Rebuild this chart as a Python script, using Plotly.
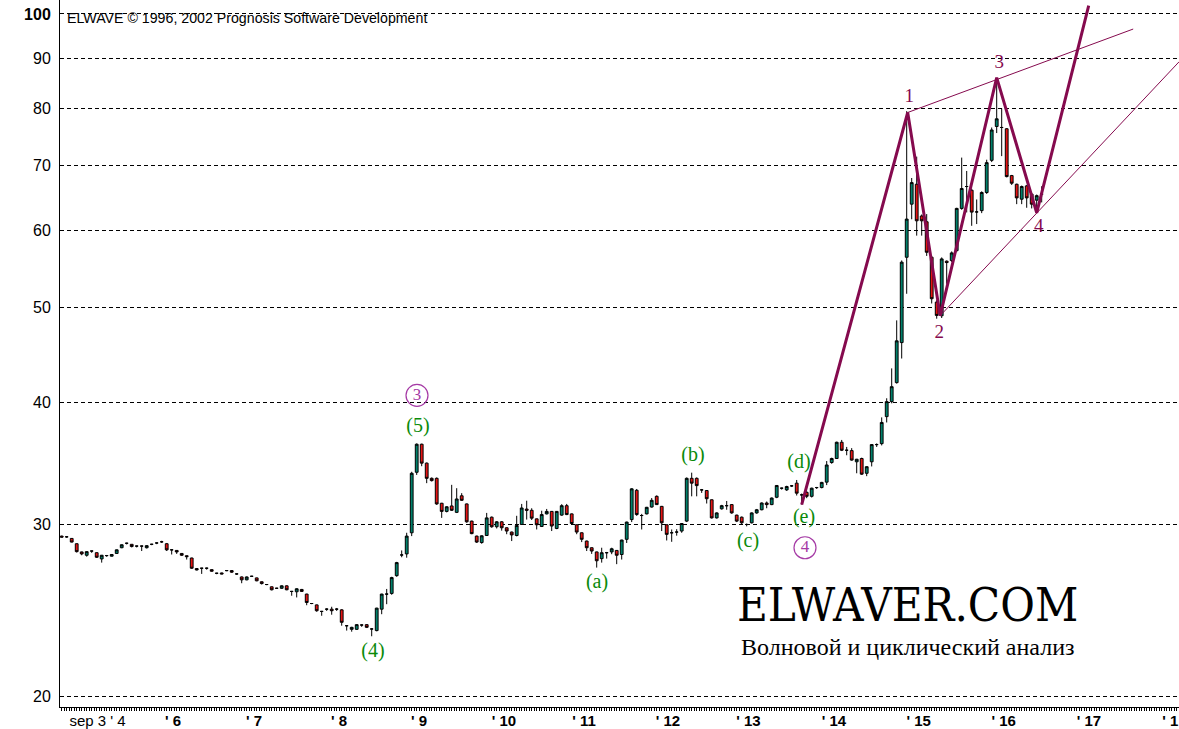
import plotly.graph_objects as go
import numpy as np

# ---------------- data ----------------
open_ = [29.17,29.12,29.01,28.65,28.10,27.88,28.16,28.05,27.64,27.86,27.82,28.00,28.38,28.68,28.61,28.49,28.49,28.38,28.61,28.70,
         28.78,28.65,28.24,28.20,28.00,27.85,27.70,27.02,27.04,27.04,26.95,26.72,26.74,26.89,26.89,26.68,26.49,26.31,26.53,26.43,
         26.19,26.02,25.88,25.79,25.79,25.94,25.60,25.58,25.72,25.44,24.88,24.80,24.42,24.55,24.55,24.55,24.51,23.61,23.41,23.41,
         23.65,23.67,23.43,23.34,24.55,25.44,25.48,26.57,27.90,27.97,29.40,33.91,36.23,34.65,33.43,33.43,31.52,30.92,31.32,30.85,
         32.08,31.47,30.22,29.17,28.73,29.21,30.50,29.82,30.17,29.75,29.45,29.21,29.98,31.09,31.00,30.38,29.84,30.74,30.92,29.70,
         30.65,31.34,30.74,29.96,29.40,28.83,28.38,28.10,27.66,28.05,28.10,28.20,27.93,28.95,30.33,32.50,30.62,30.74,31.24,32.04,
         31.29,29.96,29.40,29.45,29.52,30.22,33.43,33.43,32.53,32.48,31.78,30.45,31.11,31.34,31.42,30.65,30.50,29.98,30.10,30.81,
         31.04,31.54,31.42,31.97,32.66,32.53,32.84,33.05,32.15,32.34,32.04,32.71,32.71,33.13,34.70,35.03,36.40,35.72,35.69,34.76,
         35.03,33.83,34.76,36.20,36.28,38.67,40.06,41.90,46.05,56.32,63.84,66.91,62.08,61.24,56.32,50.67,49.06,55.80,55.88,57.21,
         63.20,66.55,65.97,62.68,62.87,65.62,70.79,76.68,76.50,76.27,68.29,66.91,64.59,66.65,65.36,64.44,65.36]
high = [29.20,29.16,29.03,28.67,28.12,28.14,28.17,28.07,27.90,27.90,27.95,28.26,28.60,28.72,28.63,28.52,28.52,28.55,28.64,28.73,
        28.85,28.70,28.26,28.22,28.02,27.87,27.72,27.04,27.06,27.08,26.97,26.75,26.76,26.92,26.92,26.70,26.52,26.52,26.56,26.45,
        26.21,26.05,25.90,25.82,25.97,25.97,25.63,25.79,25.75,25.46,24.91,24.82,24.45,24.60,24.69,24.62,24.55,23.65,23.55,23.70,
        23.68,23.70,23.47,24.63,25.46,25.75,26.50,27.45,28.20,29.40,33.95,36.30,36.28,34.70,33.50,33.50,31.55,31.30,32.92,32.66,
        32.28,31.50,30.25,29.20,29.22,30.81,30.55,30.22,30.22,29.78,29.48,30.60,31.47,31.71,31.15,30.40,30.97,31.10,30.95,30.95,
        31.45,31.47,30.77,29.98,29.42,28.86,28.40,28.12,28.38,28.10,28.38,28.22,28.92,30.18,32.66,32.60,30.74,31.25,31.91,32.11,
        31.32,29.98,29.63,29.65,30.08,33.50,33.88,33.50,32.60,32.52,31.80,30.85,31.40,31.69,31.45,30.68,30.55,30.05,30.85,31.10,
        31.58,31.65,31.95,32.90,32.70,32.85,32.90,33.30,32.25,32.45,32.70,32.76,33.15,34.82,35.10,36.45,36.60,36.00,35.90,35.00,
        35.10,34.40,36.25,36.30,38.60,40.38,43.33,48.53,55.90,79.50,67.90,71.41,62.30,62.36,56.50,50.90,56.30,55.90,57.10,63.30,
        71.25,69.04,66.20,64.55,65.80,70.90,76.50,86.00,80.00,76.40,68.40,67.00,66.70,66.80,65.50,65.30,66.60]
low = [29.08,29.05,28.74,28.06,27.88,27.79,28.04,27.70,27.40,27.78,27.80,27.98,28.35,28.60,28.40,28.40,28.16,28.33,28.55,28.62,
       28.70,28.16,27.93,27.97,27.83,27.60,27.00,26.90,26.68,26.95,26.82,26.66,26.66,26.85,26.75,26.62,26.10,26.28,26.49,26.22,
       26.02,25.98,25.66,25.75,25.76,25.67,25.34,25.24,25.57,24.78,24.84,24.40,24.17,24.45,24.23,24.45,23.61,23.34,23.28,23.38,
       23.55,23.48,23.03,23.30,24.26,24.84,25.40,26.50,27.75,27.72,29.17,33.70,34.40,33.05,33.18,31.40,30.45,30.85,30.95,30.80,
       31.70,30.10,29.30,28.70,28.65,29.18,29.75,29.70,29.55,29.30,28.83,29.15,29.95,30.33,30.30,29.63,29.80,30.70,29.52,29.65,
       30.60,30.65,29.98,29.30,28.76,28.16,27.97,27.08,27.40,27.66,27.95,27.30,27.60,28.70,30.15,30.60,29.63,30.70,31.20,31.40,
       29.52,28.87,28.78,29.20,29.40,30.15,32.04,32.04,32.30,31.50,30.40,30.40,31.05,31.04,30.75,30.15,30.00,29.85,30.05,30.75,
       31.00,31.15,31.38,31.90,32.55,32.45,32.75,32.10,31.42,31.90,31.95,32.60,32.65,32.90,34.60,35.00,35.65,35.30,34.85,33.83,
       33.70,33.60,34.38,36.00,36.13,38.14,39.90,41.80,44.35,51.67,61.60,59.27,59.27,56.50,50.50,48.72,48.80,52.90,55.70,57.00,
       63.00,62.61,60.66,60.91,62.50,65.40,70.50,75.50,71.50,68.00,66.80,63.84,63.84,63.30,63.20,62.60,64.10]
close = [29.10,29.12,28.76,28.12,27.97,28.12,28.16,27.75,27.88,27.86,27.93,28.24,28.58,28.68,28.46,28.49,28.49,28.52,28.61,28.70,
         28.78,28.24,28.24,28.10,27.88,27.79,27.04,26.93,27.04,27.04,26.85,26.72,26.68,26.89,26.79,26.68,26.31,26.49,26.53,26.25,
         26.08,26.02,25.70,25.79,25.94,25.70,25.60,25.76,25.60,24.94,24.88,24.46,24.42,24.55,24.46,24.55,23.80,23.61,23.52,23.67,
         23.65,23.52,23.43,24.61,25.44,25.44,26.45,27.40,27.90,29.17,33.83,36.23,34.65,33.43,33.25,31.47,30.92,31.26,31.00,31.84,
         31.74,30.17,29.34,28.76,29.19,30.45,29.82,30.17,29.75,29.52,29.25,29.91,31.17,31.00,30.43,29.96,30.69,30.92,29.87,30.92,
         31.34,30.69,30.05,29.45,28.95,28.38,28.16,27.52,28.05,28.05,28.31,27.88,28.90,30.15,32.61,30.69,30.62,31.22,31.74,31.42,
         30.10,29.29,29.40,29.45,30.05,33.43,33.05,32.86,32.53,31.86,30.45,30.81,31.34,31.34,30.81,30.22,30.10,29.98,30.81,31.04,
         31.54,31.42,31.91,32.87,32.66,32.79,32.84,32.28,32.15,32.04,32.66,32.71,33.11,34.50,35.03,36.40,35.72,35.72,34.90,34.97,
         33.76,34.36,36.20,36.20,38.14,40.06,41.50,46.24,55.67,61.63,67.17,61.38,61.38,56.99,51.07,49.10,56.10,55.62,56.90,63.20,
         66.24,66.55,62.65,62.68,65.62,70.41,76.05,78.08,76.50,68.13,67.07,64.79,66.55,64.79,63.84,65.13,65.36]
bar_index = list(range(len(open_)))

# Elliott wave count (bar index, price)
wave_x = [148, 169.2, 175.7, 187.0, 195.0, 205.4]
wave_y = [31.42, 79.25, 49.07, 86.05, 62.55, 102.0]
chan_top_x = [169.2, 214.3]
chan_top_y = [79.25, 96.5]
chan_bot_x = [175.7, 223.5]
chan_bot_y = [49.07, 89.35]

wave_labels = ["1", "2", "3", "4"]
wave_label_x = [169.5, 175.5, 187.5, 195.4]
wave_label_y = [82.1, 47.04, 88.93, 60.48]

circ_labels = ["3", "4"]
circ_x = [71.06, 148.66]
circ_y = [40.66, 28.38]

sub_labels = ["(5)", "(4)", "(a)", "(b)", "(c)", "(d)", "(e)"]
sub_x = [71.26, 62.26, 107.06, 126.26, 137.26, 147.46, 148.46]
sub_y = [37.77, 22.18, 26.14, 35.27, 28.79, 34.70, 30.45]

y_ticks = [20, 30, 40, 50, 60, 70, 80, 90, 100]
y_ticktext = ["20", "30", "40", "50", "60", "70", "80", "90", "<b>100</b>"]
x_ticks = [7.16, 22.26, 38.46, 55.46, 71.46, 88.46, 104.46, 121.26, 137.36, 154.46, 171.4, 188.4, 205.46, 221.7]
x_ticktext = ["sep 3 ' 4", "<b>' 6</b>", "<b>' 7</b>", "<b>' 8</b>", "<b>' 9</b>", "<b>' 10</b>", "<b>' 11</b>",
              "<b>' 12</b>", "<b>' 13</b>", "<b>' 14</b>", "<b>' 15</b>", "<b>' 16</b>", "<b>' 17</b>", "<b>' 1</b>"]

GREEN = "#00806a"
RED = "#e41414"
WAVE = "#850a4e"
CIRC = "#a53aa5"
LBLG = "#0a8a0a"

fig = go.Figure()
fig.add_trace(go.Candlestick(
    x=bar_index, open=open_, high=high, low=low, close=close,
    increasing=dict(line=dict(color="black", width=1), fillcolor=GREEN),
    decreasing=dict(line=dict(color="black", width=1), fillcolor=RED),
    whiskerwidth=0, showlegend=False, hoverinfo="skip"))

fig.add_trace(go.Scatter(x=chan_top_x, y=chan_top_y, mode="lines",
                         line=dict(color=WAVE, width=1), showlegend=False, hoverinfo="skip"))
fig.add_trace(go.Scatter(x=chan_bot_x, y=chan_bot_y, mode="lines",
                         line=dict(color=WAVE, width=1), showlegend=False, hoverinfo="skip"))
fig.add_trace(go.Scatter(x=wave_x, y=wave_y, mode="lines",
                         line=dict(color=WAVE, width=3), showlegend=False, hoverinfo="skip"))

fig.add_trace(go.Scatter(x=wave_label_x, y=wave_label_y, mode="text", text=wave_labels,
                         textposition="middle center",
                         textfont=dict(family="Liberation Serif", size=19, color=WAVE),
                         showlegend=False, hoverinfo="skip"))
fig.add_trace(go.Scatter(x=circ_x, y=circ_y, mode="markers+text", text=circ_labels,
                         textposition="middle center",
                         marker=dict(symbol="circle-open", size=22, color=CIRC, line=dict(width=1.2, color=CIRC)),
                         textfont=dict(family="Liberation Serif", size=17, color=CIRC),
                         showlegend=False, hoverinfo="skip"))
fig.add_trace(go.Scatter(x=sub_x, y=sub_y, mode="text", text=sub_labels,
                         textposition="middle center",
                         textfont=dict(family="Liberation Serif", size=20, color=LBLG),
                         showlegend=False, hoverinfo="skip"))

# plot area spans screen y 0..710 -> paper y = (710 - y) / 710
fig.add_annotation(xref="paper", yref="paper", x=0.0045, y=0.9746, xanchor="left", yanchor="middle",
                   text="ELWAVE © 1996, 2002 Prognosis Software Development", showarrow=False,
                   font=dict(family="Liberation Sans", size=14.2, color="black"))
fig.add_annotation(xref="paper", yref="paper", x=0.7578, y=0.1451, xanchor="center", yanchor="middle",
                   text="ELWAVER.COM", showarrow=False,
                   font=dict(family="DejaVu Serif Condensed, Liberation Serif", size=47, color="black"))
fig.add_annotation(xref="paper", yref="paper", x=0.7578, y=0.0845, xanchor="center", yanchor="middle",
                   text="Волновой и циклический анализ", showarrow=False,
                   font=dict(family="Liberation Serif", size=24, color="black"))

fig.update_layout(
    width=1179, height=729,
    margin=dict(l=60, r=0, t=0, b=19),
    paper_bgcolor="white", plot_bgcolor="white",
    showlegend=False,
    boxgap=0.2,
    hovermode=False,
    xaxis=dict(range=[-0.34, 223.46], rangeslider=dict(visible=False),
               showgrid=False, zeroline=False, showline=True, linecolor="black", linewidth=1,
               tickmode="array", tickvals=x_ticks, ticktext=x_ticktext, ticks="",
               ticklabeloverflow="allow",
               tickfont=dict(family="Liberation Sans", size=15, color="black"),
               minor=dict(ticks="outside", ticklen=3, tickwidth=1, tickcolor="black", dtick=0.5, tick0=0, showgrid=False)),
    yaxis=dict(type="log", range=[1.289806, 2.014286],
               showgrid=True, gridcolor="black", gridwidth=1, griddash="4px,3px",
               zeroline=False, showline=True, linecolor="black", linewidth=1,
               tickmode="array", tickvals=y_ticks, ticktext=y_ticktext, ticks="",
               ticklabelstandoff=5, ticklabeloverflow="allow",
               tickfont=dict(family="Liberation Sans", size=16, color="black")),
)

fig.write_html("out.html",
               config={"displayModeBar": False},
               post_script="document.body.style.margin='0px';document.body.style.overflow='hidden';")
